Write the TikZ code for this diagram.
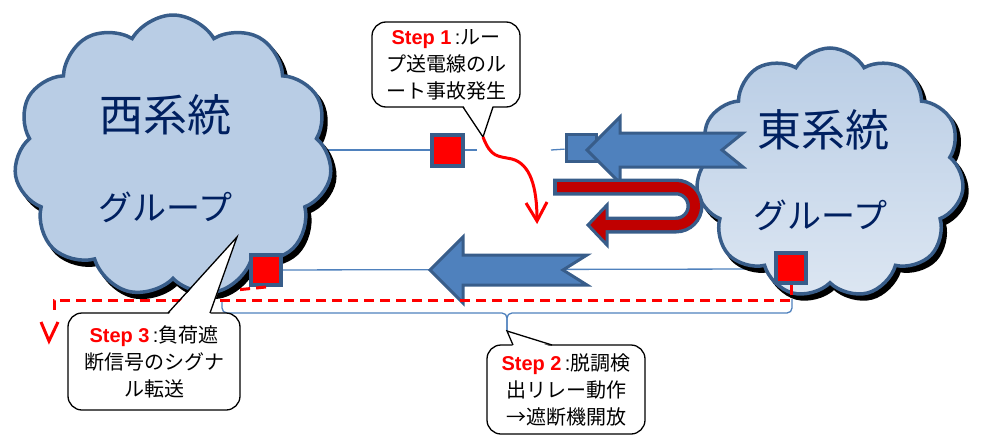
\documentclass[tikz,border=0pt]{standalone}
\usepackage{fontspec}
\setmainfont{Liberation Sans}
\newfontfamily\jp{Noto Sans CJK JP}
\newfontfamily\latin{Liberation Sans}
\usetikzlibrary{shapes.symbols,arrows.meta,backgrounds}
\definecolor{cloudfill}{HTML}{B9CDE5}
\definecolor{cloudlight}{HTML}{DCE6F2}
\definecolor{edgeblue}{HTML}{385D8A}
\definecolor{arrowblue}{HTML}{4F81BD}
\definecolor{navy}{HTML}{002060}
\definecolor{darkred}{HTML}{C00000}
\newcommand{\steplabel}[1]{{\latin\bfseries\color{red}Step #1}{\latin\,:}}
\tikzset{
 cloudbox/.style={cloud, cloud puffs=11, cloud puff arc=120, cloud ignores aspect, draw=edgeblue, line width=3.5pt,
   preaction={draw=black, fill=black, transform canvas={shift={(4pt,-5pt)}}}},
 bigjp/.style={font=\jp\fontsize{44}{44}\selectfont, text=navy, inner sep=0pt},
 midjp/.style={font=\jp\fontsize{34}{34}\selectfont, text=navy, inner sep=0pt},
 breaker/.style={rectangle, minimum size=30pt, inner sep=0pt, fill=red, draw=edgeblue, line width=4pt},
 wire/.style={arrowblue, line width=1.3pt},
 fatarrow/.style={fill=arrowblue, draw=edgeblue, line width=3pt, line join=miter},
 reddash/.style={red, line width=3pt, dash pattern=on 10pt off 6pt},
 callbox/.style={rectangle, draw=black, line width=1.3pt, fill=white, rounded corners=14pt, inner sep=0pt,
   align=center, font=\jp\fontsize{20}{27}\selectfont},
 ptr/.style={draw=black, line width=1.3pt, line join=miter},
}
\begin{document}
\begin{tikzpicture}[x=1pt,y=-1pt]
\useasboundingbox (0,0) rectangle (984,436);

% clouds
\node[cloudbox, fill=cloudfill, minimum width=318pt, minimum height=282pt] (west) at (173,156) {};
\node[cloudbox, top color=cloudfill, bottom color=cloudlight, minimum width=268pt, minimum height=250pt] (east) at (830,173) {};
\node[bigjp] (wname) at (165,115) {西系統};
\node[midjp] (wgroup) at (165,207) {グループ};
\node[bigjp] (ename) at (823,130) {東系統};
\node[midjp] (egroup) at (820,215) {グループ};

% breakers and open switch
\node[breaker, minimum size=31pt] (brk1) at (447,150) {};
\node[breaker] (brkW) at (266,270) {};
\node[breaker] (brkE) at (791,268) {};
\node[rectangle, inner sep=0pt, minimum width=30pt, minimum height=27pt, fill=arrowblue, draw=edgeblue, line width=3pt] (openbox) at (581,148) {};

% wires (behind)
\begin{pgfonlayer}{background}
\coordinate (wtop) at (300,150);
\coordinate (gapL) at (477,150);
\coordinate (gapR) at (551,150);
\coordinate (ewire) at (760,269);
\draw[wire] (wtop) -- (brk1) -- (gapL);
\draw[wire] (gapR) -- (openbox);
\draw[wire] (brkW) -- (ewire);
% bracket
\coordinate (brL) at (222,299);
\coordinate (brR) at (792,299);
\coordinate (brM) at (507,331);
\draw[wire, rounded corners=5pt] (brL) -- (222,313) -- (507,313) -- (brM);
\draw[wire, rounded corners=5pt] (brR) -- (792,313) -- (507,313) -- (brM);
\end{pgfonlayer}

% top fat arrow (pointing left)
\draw[fatarrow] (587,150) -- (620,117) -- (620,133) -- (743,133) -- (722,150) -- (743,167) -- (620,167) -- (620,183) -- cycle;
% bottom fat arrow
\draw[fatarrow] (430,270) -- (463,237) -- (463,255) -- (587,255) -- (563,270) -- (587,285) -- (463,285) -- (463,303) -- cycle;

% U-turn red arrow
\draw[edgeblue, line width=17pt] (553,187) -- (676,187) arc(-90:90:19) -- (604,225);
\draw[fill=darkred, draw=edgeblue, line width=3pt, line join=miter] (588,225) -- (607,205) -- (607,245) -- cycle;
\draw[darkred, line width=10pt] (557,187) -- (676,187) arc(-90:90:19) -- (600,225);

% red dashed signal path
\draw[reddash] (brkE.south) -- (791,300) -- (54,300) -- (54,314);
\draw[red, line width=3pt] (41,322) -- (49,341) -- (58,322);
\draw[reddash] (brkW.south) -- ++(-30,3);

% Step 1 callout
\node[callbox, minimum width=148pt, minimum height=85pt] (c1) at (446,64.5)
  {\steplabel{1}ルー\\プ送電線のル\\ート事故発生};
\coordinate (c1tip) at (483,137);
\fill[white] (463,105) -- (c1tip) -- (493,105) -- cycle;
\draw[ptr] (463,107) -- (c1tip) -- (493,107);
% fault curve
\draw[red, line width=3pt] (c1tip) .. controls (491,158) and (498,156) .. (512,159)
  .. controls (530,164) and (537,186) .. (537,220);
\draw[red, line width=3pt] (526,203) -- (537,221) -- (547,202);

% Step 3 callout
\node[callbox, minimum width=172pt, minimum height=97pt] (c3) at (154,361.5)
  {\steplabel{3}負荷遮\\断信号のシグナ\\ル転送};
\coordinate (c3tip) at (237,237);
\fill[white] (168,315) -- (c3tip) -- (210,315) -- cycle;
\draw[ptr] (168,313) -- (c3tip) -- (210,313);

% Step 2 callout
\node[callbox, minimum width=158pt, minimum height=89pt] (c2) at (566,389.5)
  {\steplabel{2}脱調検\\出リレー動作\\→遮断機開放};
\fill[white] (513,347) -- (brM) -- (552,347) -- cycle;
\draw[ptr] (513,345) -- (brM) -- (552,345);
\end{tikzpicture}
\end{document}
